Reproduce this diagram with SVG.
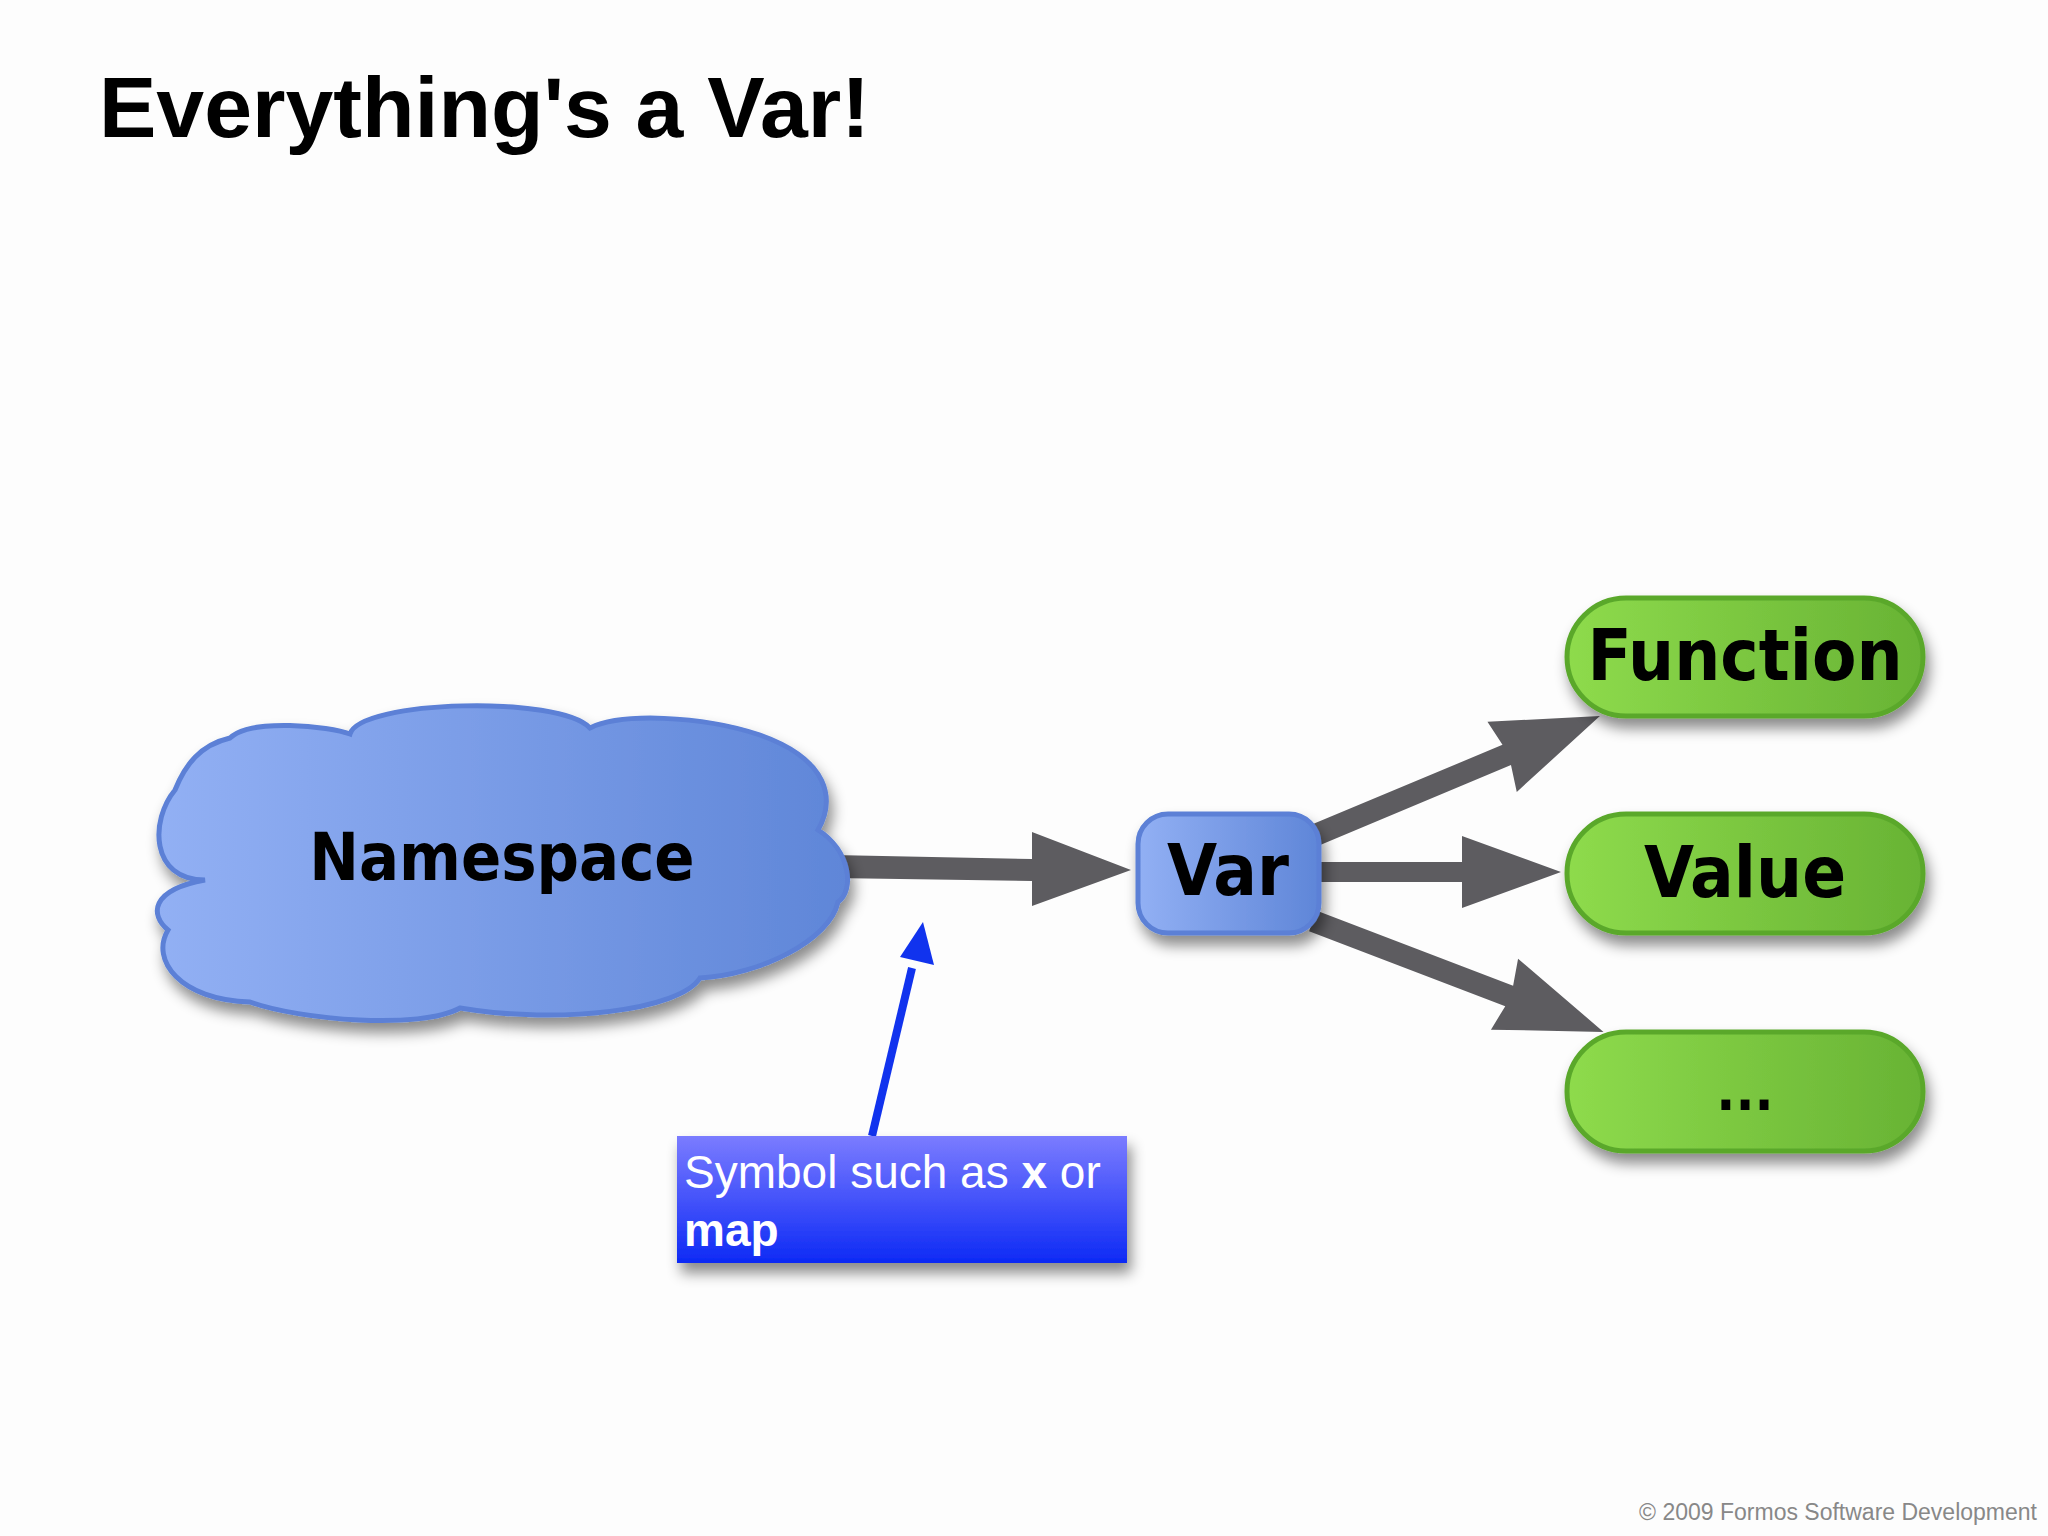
<svg xmlns="http://www.w3.org/2000/svg" width="2048" height="1536" viewBox="0 0 2048 1536">
<defs>
<linearGradient id="gg" x1="0" x2="1" y1="0" y2="0"><stop offset="0" stop-color="#8edb4c"/><stop offset="1" stop-color="#68b334"/></linearGradient>
<linearGradient id="bg" x1="0" x2="1" y1="0" y2="0"><stop offset="0" stop-color="#92b0f4"/><stop offset="1" stop-color="#5f86d8"/></linearGradient>
<linearGradient id="cb" x1="0" x2="0" y1="0" y2="1"><stop offset="0" stop-color="#7b7cff"/><stop offset="1" stop-color="#0d2af5"/></linearGradient>
<filter id="sh" x="-10%" y="-10%" width="130%" height="140%"><feDropShadow dx="4" dy="10" stdDeviation="7" flood-color="#000" flood-opacity="0.45"/></filter>
</defs>
<style>
.t{font-family:"Liberation Sans Narrow","DejaVu Sans Condensed",sans-serif;font-weight:bold;fill:#000;text-anchor:middle}
.pill{fill:url(#gg);stroke:#5aa82c;stroke-width:5;filter:url(#sh)}
.conn{fill:#5d5c60}
</style>
<rect width="2048" height="1536" fill="#fdfdfd"/>
<text x="99" y="137" font-family="Helvetica,'Liberation Sans',Arial,sans-serif" font-weight="bold" font-size="86">Everything's a Var!</text>
<g id="connectors">
<polygon class="conn" points="833,855 1032,859 1032,832 1131,870 1032,906 1032,881 833,878"/>
<g transform="translate(1313,836) rotate(-22.7)"><polygon class="conn" points="0,-11 210,-11 205,-38 311,0 205,38 210,11 0,11"/></g>
<polygon class="conn" points="1319,862 1462,862 1462,836 1561,872 1462,908 1462,882 1319,882"/>
<g transform="translate(1313,921) rotate(20.9)"><polygon class="conn" points="0,-11 210,-11 205,-38 311,0 205,38 210,11 0,11"/></g>
<line x1="872" y1="1136" x2="912" y2="968" stroke="#1133ee" stroke-width="8"/>
<polygon points="923,922 934,965 900,957" fill="#1133ee"/>
</g>
<g id="namespace">
<path d="M230,738 C250,718 330,726 350,734 C360,700 560,695 590,728 C620,713 700,715 760,735 C830,760 835,800 818,830 C850,850 855,890 838,902 C830,940 760,975 700,978 C680,1010 560,1025 460,1008 C420,1030 300,1020 250,1002 C180,1000 150,960 168,930 C150,915 150,890 205,880 C150,880 150,820 175,790 C185,765 200,745 230,738 Z" fill="url(#bg)" stroke="#5b80d6" stroke-width="5" filter="url(#sh)"/>
<text class="t" x="502" y="880" font-size="66">Namespace</text>
</g>
<g id="var">
<rect x="1138" y="814" width="181" height="119" rx="30" fill="url(#bg)" stroke="#5b80d6" stroke-width="5" filter="url(#sh)"/>
<text class="t" x="1228" y="895" font-size="72">Var</text>
</g>
<g id="function">
<rect class="pill" x="1567" y="598" width="356" height="118" rx="59"/>
<text class="t" x="1745" y="680" font-size="72">Function</text>
</g>
<g id="value">
<rect class="pill" x="1567" y="814" width="356" height="119" rx="59"/>
<text class="t" x="1745" y="897" font-size="72">Value</text>
</g>
<g id="more">
<rect class="pill" x="1567" y="1032" width="356" height="119" rx="59"/>
<text class="t" x="1745" y="1110" font-size="56">...</text>
</g>
<g id="callout">
<rect x="677" y="1136" width="450" height="127" fill="url(#cb)" filter="url(#sh)"/>
<text x="684" y="1188" font-family="Helvetica,'Liberation Sans',Arial,sans-serif" font-size="46" fill="#fff" font-weight="300">Symbol such as <tspan font-weight="bold">x</tspan> or</text>
<text x="684" y="1246" font-family="Helvetica,'Liberation Sans',Arial,sans-serif" font-size="46" fill="#fff" font-weight="bold">map</text>
</g>
<text x="2037" y="1520" text-anchor="end" font-family="Helvetica,'Liberation Sans',Arial,sans-serif" font-size="23" fill="#888">© 2009 Formos Software Development</text>
</svg>
